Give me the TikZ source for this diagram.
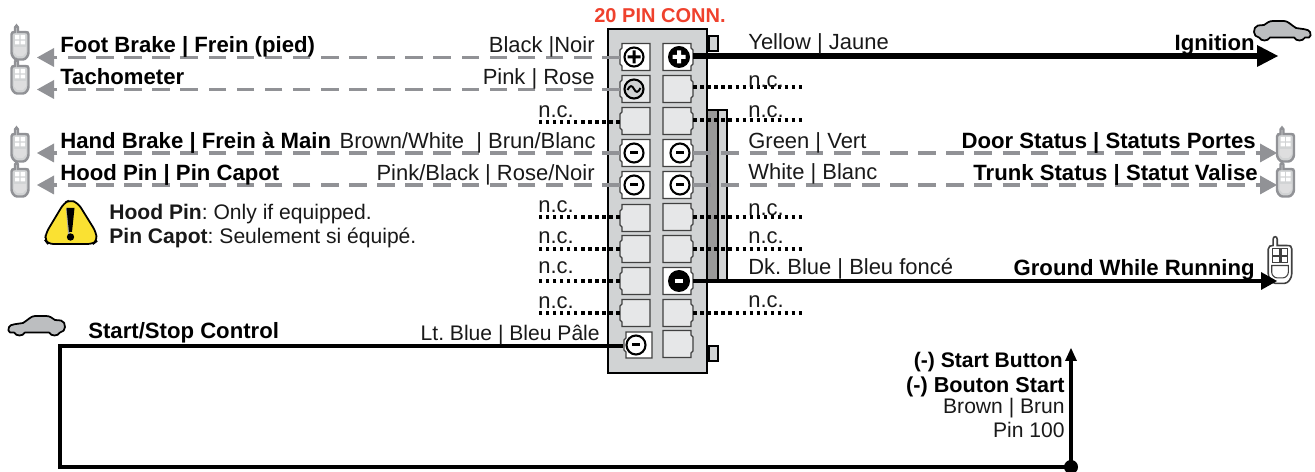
\documentclass[tikz,border=0pt]{standalone}
\usepackage{fontspec}
\setmainfont{Liberation Sans}
\frenchspacing
\definecolor{wiregray}{RGB}{145,146,150}
\definecolor{bodygray}{RGB}{209,211,212}
\definecolor{carfill}{RGB}{188,190,192}
\definecolor{redlbl}{RGB}{239,65,45}
\definecolor{warnyel}{RGB}{250,225,50}
\definecolor{emptypin}{RGB}{230,231,232}
\newcommand\RemoteOutline{(-8.5,-8) .. controls (-8.5,-10) and (-7,-10.5) .. (-5,-10.5) -- (-5,-15) .. controls (-5,-17.5) and (-2,-17.5) .. (-2,-15) -- (-2,-10.5) -- (5,-10.5) .. controls (7.5,-10.5) and (8.5,-10) .. (8.5,-8) -- (8.5,10) .. controls (8.5,13) and (6,17) .. (3,17) -- (-3,17) .. controls (-6,17) and (-8.5,13) .. (-8.5,10) -- cycle}
\tikzset{
  x=0.02cm,y=-0.02cm,
  pinnode/.style={inner sep=0,draw=none,rectangle,minimum width=0.6cm,minimum height=0.54cm},
  lbl/.style={font=\fontsize{12.5pt}{14pt}\selectfont,inner sep=0,text=black!90},
  lblb/.style={lbl,text=black,font=\fontsize{12.6pt}{14pt}\selectfont\bfseries},
  lblsmall/.style={lbl,font=\fontsize{12pt}{14pt}\selectfont},
  lblsmallb/.style={lbl,text=black,font=\fontsize{12pt}{14pt}\selectfont\bfseries},
  dashwire/.style={draw=wiregray,line width=1.9pt,dash pattern=on 10pt off 6pt},
  dotwire/.style={draw=black,line width=2pt,dash pattern=on 2pt off 2pt},
  blackthin/.style={draw=black,line width=2.4pt},
  headgray/.style={fill=wiregray,draw=none},
  headblack/.style={fill=black,draw=none},
  remote/.pic={
    \draw[draw=wiregray,fill=#1,line width=1.4pt] \RemoteOutline;
    \fill[white] (-5,-7.5) rectangle (-.7,-3) (.7,-7.5) rectangle (5,-3) (-5,-1.8) rectangle (-.7,2) (.7,-1.8) rectangle (5,2);
    \fill[white!70!wiregray] (-6,4.5) -- (6,4.5) -- (6,10) -- (3,13.5) -- (-3,13.5) -- (-6,10) -- cycle;
  },
  car/.pic={
    \draw[fill=carfill,draw=black,line width=1pt,line join=round] (1,12) .. controls (1,9) and (2,6) .. (5,5.5) -- (11,5) .. controls (14,3) and (16,1) .. (20,1) -- (31,1) .. controls (35,1) and (38,5) .. (43,8) .. controls (48,9) and (56,9) .. (57,12) .. controls (58,14) and (58,17) .. (56,17.5) -- (52,17.5) .. controls (50,21.5) and (43,21.5) .. (41,17.5) -- (17,17.5) .. controls (15,21.5) and (8,21.5) .. (6,17.5) .. controls (3,17) and (1,15) .. (1,12) -- cycle;
  },
}
\newcommand\PinL[4]{\node[pinnode] (#1) at (#2,#3) {};
  \draw[draw=black!75,fill=#4,line width=.7pt] (#2-13,#3-13.5)--(#2+15,#3-13.5)--(#2+15,#3+13.5)--(#2-13,#3+13.5)--(#2-13,#3+9)--(#2-15,#3+7)--(#2-15,#3-7)--(#2-13,#3-9)--cycle;}
\newcommand\PinR[4]{\node[pinnode] (#1) at (#2,#3) {};
  \draw[draw=black!75,fill=#4,line width=.7pt] (#2-15,#3-13.5)--(#2+13,#3-13.5)--(#2+13,#3-9)--(#2+15,#3-7)--(#2+15,#3+7)--(#2+13,#3+9)--(#2+13,#3+13.5)--(#2-15,#3+13.5)--cycle;}
\newcommand\SymPlus[2]{\draw[fill=white,draw=black,line width=1.2pt] (#1,#2) circle (9.5);
  \fill[black] (#1-6.5,#2-1.5) rectangle (#1+6.5,#2+1.5) (#1-1.5,#2-6.5) rectangle (#1+1.5,#2+6.5);}
\newcommand\SymMinus[2]{\draw[fill=white,draw=black,line width=1.2pt] (#1,#2) circle (9.5);
  \fill[black] (#1-4,#2-1.5) rectangle (#1+4,#2+1.5);}
\newcommand\SymBlackPlus[2]{\fill[black] (#1,#2) circle (11);
  \fill[white] (#1-6.5,#2-2) rectangle (#1+6.5,#2+2) (#1-2,#2-6.5) rectangle (#1+2,#2+6.5);}
\newcommand\SymBlackMinus[2]{\fill[black] (#1,#2) circle (11);
  \fill[white] (#1-4,#2-2) rectangle (#1+4,#2+2);}
\begin{document}
\begin{tikzpicture}
\useasboundingbox (0,0) rectangle (1315,472);
% connector body
\draw[fill=bodygray,draw=black,line width=1.1pt] (608,29) rectangle (707,373);
\draw[fill=bodygray,draw=black,line width=1pt] (709,36) rectangle (718,51);
\draw[fill=bodygray,draw=black,line width=1pt] (709,346) rectangle (718,361);
% strip
\fill[black!40] (708,109) rectangle (718,283);
\fill[bodygray] (718,109) rectangle (727,283);
\draw[draw=black,line width=1.1pt] (707,110)--(727,110)--(727,283) (718,110)--(718,283);
% pins
\foreach \n/\y/\f in {L1/57/white,L2/89/white!50!bodygray,L3/121/emptypin,L4/153/white,L5/185/white,L6/218/emptypin,L7/249/emptypin,L8/281/emptypin,L9/313/emptypin}{
  \PinL{\n}{635}{\y}{\f}
}
\node[pinnode] (L10) at (638,345) {};
\draw[draw=black!75,fill=white,line width=.7pt] (626,332)--(652,332)--(652,358)--(626,358)--(626,352)--(624,350)--(624,340)--(626,338)--cycle;
\foreach \n/\y/\f in {R1/57/white,R2/89/emptypin,R3/121/emptypin,R4/153/white,R5/185/white,R6/217/emptypin,R7/249/emptypin,R8/281/white,R9/313/emptypin,R10/344/emptypin}{
  \PinR{\n}{678}{\y}{\f}
}
% symbols
\SymPlus{634}{57}
\draw[fill=bodygray,draw=black,line width=1.2pt] (634,89) circle (9.5);
\draw[black,line width=1.1pt] (627.5,90) .. controls (630,85) and (632,85) .. (634,89) .. controls (636,93) and (638,93) .. (640.5,88);
\SymBlackPlus{679}{57}
\SymMinus{634}{153}\SymMinus{634}{185}
\SymMinus{680}{153}\SymMinus{680}{185}
\SymBlackMinus{679}{281}
\SymMinus{636}{345}
% free ends
\coordinate (aFoot) at (37,57.5);\coordinate (aTach) at (37,89.5);
\coordinate (aHand) at (37,153);\coordinate (aHood) at (37,185);
\coordinate (aDoor) at (1277,153);\coordinate (aTrunk) at (1277,185);
\coordinate (aIgn) at (1278,56);\coordinate (aGnd) at (1277,281);
% dashed wires
\foreach \s/\t in {L1/aFoot,L2/aTach,L4/aHand,L5/aHood}{
  \draw[dashwire] (\s.west |- \t) -- ([xshift=0.3cm]\t);
  \fill[headgray] (\t)--++(17,-9.5)--++(0,19)--cycle;
}
\foreach \s/\t in {R4/aDoor,R5/aTrunk}{
  \draw[dashwire] (\s.east |- \t) -- ([xshift=-0.3cm]\t);
  \fill[headgray] (\t)--++(-17,-9.5)--++(0,19)--cycle;
}
% dotted
\coordinate (dL3) at (538,122);\coordinate (dL6) at (538,217);\coordinate (dL7) at (538,249);\coordinate (dL8) at (538,281);\coordinate (dL9) at (538,313);
\coordinate (dR2) at (803,87);\coordinate (dR3) at (803,120);\coordinate (dR6) at (803,217);\coordinate (dR7) at (803,249);\coordinate (dR9) at (803,313);
\foreach \s/\t in {L3/dL3,L6/dL6,L7/dL7,L8/dL8,L9/dL9}{\draw[dotwire] (\s.west |- \t) -- (\t);}
\foreach \s/\t in {R2/dR2,R3/dR3,R6/dR6,R7/dR7,R9/dR9}{\draw[dotwire] (\s.east |- \t) -- (\t);}
% remotes
\pic at (20,42.5) {remote=bodygray};
\pic at (20,76.5) {remote=bodygray};
\pic at (20,144.5) {remote=bodygray};
\pic at (20,179.5) {remote=bodygray};
\pic at (1285.5,144.5) {remote=bodygray};
\pic at (1285.5,179.5) {remote=bodygray};
\begin{scope}[shift={(1280,260)},xscale=1.38,yscale=1.38]
\draw[draw=black!75,fill=white,line width=.9pt] \RemoteOutline;
\draw[draw=black!75,line width=.6pt] (-5.5,-8) rectangle (-.7,-3.5) (.7,-8) rectangle (5.5,-3.5) (-5.5,-2.5) rectangle (-.7,2) (.7,-2.5) rectangle (5.5,2);
\draw[draw=black!75,line width=.6pt] (-6,4)--(6,4)--(6,9) .. controls (6,11) and (4,13) .. (2,13) -- (-2,13) .. controls (-4,13) and (-6,11) .. (-6,9) --cycle;
\end{scope}
% black wires
\draw[draw=black,line width=3pt] (R1.east |- aIgn) -- ([xshift=-0.4cm]aIgn);
\fill[headblack] (aIgn)--++(-21,-11)--++(0,22)--cycle;
\draw[blackthin] (R8.east |- aGnd) -- ([xshift=-0.3cm]aGnd);
\fill[headblack] (aGnd)--++(-16,-9)--++(0,18)--cycle;
\coordinate (c1) at (60,346);\coordinate (c2) at (60,467);\coordinate (dot) at (1071,467);\coordinate (tip) at (1071,348);
\draw[blackthin,line width=2.6pt] (L10.west |- c1) -- (c1) -- (c2) -- (dot) -- (1071,358);
\fill[headblack] (tip)--(1077,361)--(1065,361)--cycle;
\fill[black] (dot) circle (7);
% cars
\pic at (1253,20) {car};
\pic[xscale=-1] at (66,315) {car};
% warning
\draw[fill=warnyel,draw=black,line width=1pt,rounded corners=3pt] (70,200)--(78,203)--(96,232)--(97,241)--(93,244)--(48,244)--(45,240)--(46,233)--(64,203)--cycle;
\fill[black!35] (66,208)--(68,234)--(70,234)--(69,208)--cycle;
\fill[black] (66.5,208)--(74.5,208)--(72,232)--(69,232)--cycle;
\fill[black] (70.5,237) circle (3.7);
% labels
\node[lblb,anchor=base west] (t1) at (60,53) {Foot Brake | Frein (pied)};
\node[lblb,anchor=base west] (t2) at (60,85) {Tachometer};
\node[lblb,anchor=base west] (t3) at (60,148.5) {Hand Brake | Frein à Main};
\node[lblb,anchor=base west] (t4) at (60,180.5) {Hood Pin | Pin Capot};
\node[lbl,anchor=base east] (t5) at (595,53) {Black |Noir};
\node[lbl,anchor=base east] (t6) at (595,85) {Pink | Rose};
\node[lbl,anchor=base east] (t7) at (596,148.5) {Brown/White~ | Brun/Blanc};
\node[lbl,anchor=base east] (t8) at (595,180.5) {Pink/Black | Rose/Noir};
\foreach \n/\y in {a/118,b/213,c/244,d/274,e/309}{\node[lbl,anchor=base west] (nl\n) at (538,\y) {n.c.};}
\foreach \n/\y in {a/88,b/118,c/216,d/244,e/308}{\node[lbl,anchor=base west] (nr\n) at (748,\y) {n.c.};}
\node[lbl,anchor=base west] (r1) at (748,50) {Yellow | Jaune};
\node[lbl,anchor=base west] (r2) at (748,148.5) {Green | Vert};
\node[lbl,anchor=base west] (r3) at (748,179.5) {White | Blanc};
\node[lbl,anchor=base west] (r4) at (748,274.5) {Dk. Blue | Bleu foncé};
\node[lblb,anchor=base east] (b1) at (1255,50.5) {Ignition};
\node[lblb,anchor=base east] (b2) at (1256,148.5) {Door Status | Statuts Portes};
\node[lblb,anchor=base east] (b3) at (1258,180.5) {Trunk Status | Statut Valise};
\node[lblb,anchor=base east] (b4) at (1255,275.5) {Ground While Running};
\node[lblb,anchor=base west] (s1) at (88,338.5) {Start/Stop Control};
\node[lblsmall,anchor=base east] (s2) at (600,340.5) {Lt. Blue | Bleu Pâle};
\node[lblb,anchor=base,text=redlbl,font=\fontsize{11.4pt}{13pt}\selectfont\bfseries] (ttl) at (660,23) {20 PIN CONN.};
\node[lblsmall,anchor=base west] (w1) at (109,219.5) {\textbf{Hood Pin}: Only if equipped.};
\node[lblsmall,anchor=base west] (w2) at (109,243.5) {\textbf{Pin Capot}: Seulement si équipé.};
\node[lblsmallb,anchor=base east] (p1) at (1063,367.5) {(-) Start Button};
\node[lblsmallb,anchor=base east,font=\fontsize{12.3pt}{14pt}\selectfont\bfseries] (p2) at (1065,392.5) {(-) Bouton Start};
\node[lblsmall,anchor=base east] (p3) at (1065,413.5) {Brown | Brun};
\node[lblsmall,anchor=base east] (p4) at (1065,437.5) {Pin 100};
\end{tikzpicture}
\end{document}
